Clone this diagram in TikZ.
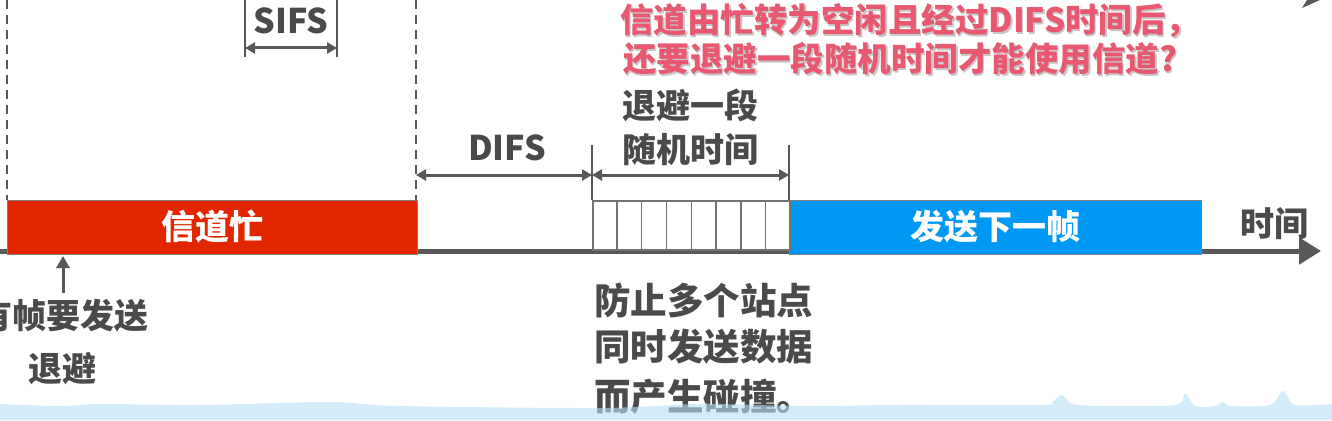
\documentclass[tikz,border=0pt]{standalone}
\usepackage{fontspec}
\setmainfont{Noto Sans CJK SC}
\usetikzlibrary{arrows.meta,calc}
\definecolor{busyred}{RGB}{226,38,0}
\definecolor{sendblue}{RGB}{0,152,245}
\definecolor{txtgray}{RGB}{74,74,74}
\definecolor{arrgray}{RGB}{88,88,88}
\definecolor{pinkred}{RGB}{232,88,112}
\definecolor{bandblue}{RGB}{180,226,246}
\begin{document}
\begin{tikzpicture}[x=1pt,y=-1pt,
  lbl/.style={text=txtgray, font=\fontsize{34}{40}\selectfont\bfseries, inner sep=0pt},
  big/.style={text=txtgray, font=\fontsize{36.5}{42}\selectfont\bfseries, inner sep=0pt, anchor=west},
  chanbox/.style={draw=black!50, line width=1pt, minimum height=54pt, inner sep=0pt, anchor=center,
    text=white, font=\fontsize{34}{40}\selectfont\bfseries},
  dim/.style={draw=arrgray, line width=3pt, {Triangle[length=10pt,width=11pt]}-{Triangle[length=10pt,width=11pt]}},
  tickline/.style={draw=arrgray, line width=1.5pt},
  vdash/.style={draw=arrgray, line width=1.5pt, dash pattern=on 9pt off 6pt},
  slotline/.style={draw=black!55, line width=1.5pt},
  qtext/.style={text=pinkred, font=\fontsize{33.5}{38}\selectfont\bfseries, inner sep=0pt, anchor=west},
  qshadow/.style={text=black!22, font=\fontsize{33.5}{38}\selectfont\bfseries, inner sep=0pt, anchor=west}
]
\useasboundingbox (0,0) rectangle (1332,420);
\fill[white] (0,0) rectangle (1332,420);

% dashed guide lines
\coordinate (dl0) at (7,0);   \coordinate (dl1) at (7,200);
\coordinate (dr0) at (416,0); \coordinate (dr1) at (416,200);
\draw[vdash] (dl0) -- (dl1);
\draw[vdash] (dr0) -- (dr1);

% time axis
\coordinate (ax0) at (0,251);
\coordinate (ax1) at (1321,251);
\draw[line width=5pt, draw=arrgray, -{Triangle[length=22pt,width=26pt]}] (ax0) -- (ax1);
\node[lbl] (tlabel) at (1274,224) {时间};

% channel busy box
\node[chanbox, fill=busyred, minimum width=410pt] (busy) at (212,227) {信道忙};
% send next frame box
\node[chanbox, fill=sendblue, minimum width=412pt] (send) at (995,227) {发送下一帧};

% backoff slots
\node[draw=black!55, line width=1.5pt, minimum width=197pt, minimum height=49pt, inner sep=0pt,
  anchor=north west] (slots) at (592,200) {};
\foreach \i in {1,...,7}{
  \draw[slotline] ($(slots.north west)!\i/8!(slots.north east)$) -- ($(slots.south west)!\i/8!(slots.south east)$);
}

% SIFS
\coordinate (s0t) at (245,0);  \coordinate (s0b) at (245,57);
\coordinate (s1t) at (337,0);  \coordinate (s1b) at (337,57);
\coordinate (sa) at (245,48);  \coordinate (sb) at (337,48);
\draw[tickline] (s0t) -- (s0b);
\draw[tickline] (s1t) -- (s1b);
\draw[dim] (sa) -- (sb);
\node[lbl] (sifs) at (291,21) {SIFS};

% DIFS and random backoff
\coordinate (t1t) at (592,145); \coordinate (t1b) at (592,200);
\coordinate (t2t) at (789,145); \coordinate (t2b) at (789,200);
\draw[tickline] (t1t) -- (t1b);
\draw[tickline] (t2t) -- (t2b);
\coordinate (da) at (416,175); \coordinate (db) at (592,175);
\coordinate (ra) at (592,175); \coordinate (rb) at (789,175);
\draw[dim] (da) -- (db);
\draw[dim] (ra) -- (rb);
\node[lbl] (difs) at (507,148) {DIFS};
\node[lbl] (rnd1) at (690,105) {退避一段};
\node[lbl] (rnd2) at (690,150) {随机时间};

% frame to send
\coordinate (up0) at (63,293);
\coordinate (up1) at (63,256);
\draw[draw=arrgray, line width=3pt, -{Triangle[length=12pt,width=13pt]}] (up0) -- (up1);
\node[lbl] (want) at (64,316) {有帧要发送};
\node[lbl] (back) at (62,369) {退避};

% explanation
\node[big] (ex1) at (594,300) {防止多个站点};
\node[big] (ex2) at (594,347) {同时发送数据};
\node[big] (ex3) at (594,397) {而产生碰撞。};

% question
\node[qshadow] (q1s) at (621.5,23) {信道由忙转为空闲且经过DIFS时间后，};
\node[qshadow] (q2s) at (624.5,61) {还要退避一段随机时间才能使用信道?};
\node[qtext] (q1) at (620,21) {信道由忙转为空闲且经过DIFS时间后，};
\node[qtext] (q2) at (623,59) {还要退避一段随机时间才能使用信道?};

% cropped arrow tip at top right
\fill[arrgray] (1302,8) -- (1320,0) -- (1307,0) -- cycle;

% bottom band
\fill[bandblue, fill opacity=0.6] plot[smooth] coordinates {(0,404) (60,406) (100,404) (200,405) (330,402) (400,406) (600,408) (700,404) (800,406) (900,405) (1040,405) (1052,402) (1062,395) (1072,404) (1100,406) (1175,405) (1185,393) (1195,406) (1215,406) (1223,402) (1231,406) (1270,405) (1283,391) (1295,405) (1332,404)} -- (1332,420) -- (0,420) -- cycle;
\end{tikzpicture}
\end{document}
